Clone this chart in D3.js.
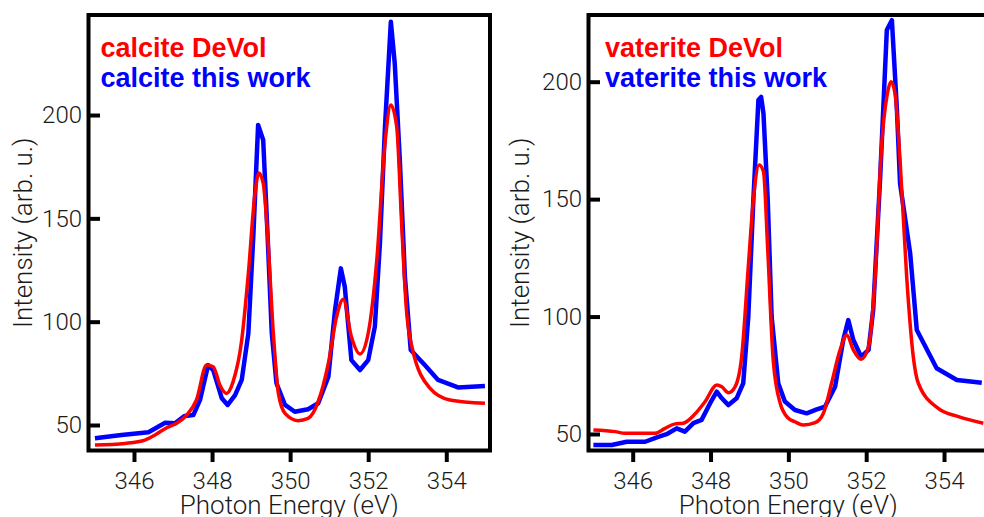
<!DOCTYPE html>
<html>
<head>
<meta charset="utf-8">
<script src="https://cdn.jsdelivr.net/npm/d3@7"></script>
<style>
  body { margin: 0; background: #fff; }
  svg { display: block; }
  .tick text { font-family: "Helvetica Neue", Roboto, "Liberation Sans", sans-serif; font-weight: 300; font-size: 24px; fill: #1a1a1a; }
  .title { font-family: "Helvetica Neue", Roboto, "Liberation Sans", sans-serif; font-weight: 300; font-size: 26px; fill: #1a1a1a; }
  .legend { font-family: "Liberation Sans", Arial, sans-serif; font-weight: bold; font-size: 27px; }
</style>
</head>
<body>
<div id="chart"></div>
<script>
// calcite panel
const calciteWorkE = [345.0, 345.68, 346.37, 346.8, 347.05, 347.3, 347.52, 347.69, 347.9, 348.03, 348.25, 348.4, 348.59, 348.76, 348.93, 349.06, 349.18, 349.31, 349.42, 349.53, 349.65, 349.87, 350.12, 350.46, 350.72, 350.98, 351.15, 351.3, 351.4, 351.57, 351.79, 352.0, 352.17, 352.3, 352.43, 352.58, 352.68, 352.81, 352.94, 353.09, 353.45, 353.79, 354.3, 354.99]
const calciteWorkI = [43.6, 45.2, 46.5, 51.1, 50.8, 54.4, 54.8, 62, 79, 76.6, 62.9, 59.7, 64.5, 71.8, 94.4, 142.7, 195.2, 187.9, 142.9, 94.5, 70.2, 59.7, 56.4, 57.6, 60.5, 73.4, 105.6, 125.8, 116.9, 81.4, 76.6, 81.4, 97.6, 137.9, 194.3, 245.1, 225, 178.2, 121.8, 86.3, 79, 71.8, 68.2, 68.9]
const calciteDeVolE = [345.0, 345.77, 346.28, 346.54, 346.84, 347.09, 347.35, 347.6, 347.86, 348.03, 348.2, 348.37, 348.54, 348.76, 348.93, 349.1, 349.2, 349.31, 349.42, 349.57, 349.7, 349.87, 350.2, 350.46, 350.72, 350.98, 351.19, 351.36, 351.57, 351.79, 352.0, 352.22, 352.43, 352.58, 352.73, 352.86, 352.98, 353.11, 353.58, 354.09, 354.99]
const calciteDeVolI = [40.3, 41.1, 42.7, 45.2, 48.7, 50.8, 54.8, 62.1, 79, 78.2, 69.4, 65.3, 71, 91.1, 123.4, 162.1, 172, 167, 142.7, 94.4, 65.3, 55.6, 52.1, 53.2, 61.3, 79.9, 102.4, 110.8, 92.7, 84.4, 94.4, 129.8, 186.3, 204.8, 194.3, 146, 105.6, 88.7, 67.8, 62.1, 60.5]

// vaterite panel
const vateriteWorkE = [344.99, 345.46, 345.85, 346.32, 346.62, 346.87, 347.13, 347.34, 347.56, 347.77, 347.99, 348.16, 348.29, 348.46, 348.67, 348.84, 348.97, 349.1, 349.23, 349.3, 349.36, 349.47, 349.57, 349.74, 349.91, 350.17, 350.47, 350.73, 350.94, 351.2, 351.41, 351.54, 351.67, 351.87, 352.06, 352.18, 352.36, 352.53, 352.66, 352.79, 352.87, 353.13, 353.3, 353.81, 354.33, 354.97]
const vateriteWorkI = [45.3, 45.3, 46.7, 46.7, 48.6, 49.9, 52.4, 51, 54.6, 56, 63.1, 68, 65.2, 62.3, 65.2, 71.6, 99.9, 149.6, 192.2, 193.5, 186.5, 149.6, 99.9, 71.6, 63.8, 60.2, 58.8, 60.5, 61.6, 70.1, 90, 98.5, 90, 82.9, 85.8, 102.8, 159.5, 222, 226.2, 188, 156.7, 126.9, 94.3, 78, 73, 71.8]
const vateriteDeVolE = [344.99, 345.55, 345.8, 346.57, 346.83, 347.09, 347.3, 347.6, 347.86, 348.16, 348.29, 348.46, 348.63, 348.8, 348.97, 349.1, 349.25, 349.36, 349.47, 349.61, 349.79, 350.0, 350.17, 350.38, 350.69, 350.9, 351.11, 351.33, 351.5, 351.67, 351.87, 352.06, 352.23, 352.4, 352.53, 352.64, 352.74, 352.87, 353.04, 353.21, 353.34, 353.85, 354.37, 355.01]
const vateriteDeVolI = [51.7, 51, 50.3, 50.3, 52.4, 54.3, 54.6, 58.5, 63.8, 70.9, 70.1, 67.6, 70.1, 82.9, 121.2, 149.6, 164.5, 161.7, 128.3, 81.5, 63.1, 56.7, 55.2, 53.8, 54.8, 58.8, 71.6, 85.8, 92.1, 85.8, 81.8, 87.2, 117, 173.8, 193.6, 200, 195, 166.6, 117, 82.9, 71.6, 60.9, 57.4, 54.6]

const xTickValues = [346, 348, 350, 352, 354]
const yTickValues = [50, 100, 150, 200]
const xTitle = 'Photon Energy (eV)'
const yTitle = 'Intensity (arb. u.)'

const width = 984
const height = 517
const red = '#ff0000'
const blue = '#0000ff'

const panels = [
  {
    frame: { left: 88.5, right: 490, top: 15, bottom: 450.5 },
    xDomain: [344.835, 355.12],
    yDomain: [37.66, 248.4],
    legendX: 12,
    titleOffset: 56.5,
    labels: ['calcite DeVol', 'calcite this work'],
    work: { e: calciteWorkE, i: calciteWorkI },
    devol: { e: calciteDeVolE, i: calciteDeVolI }
  },
  {
    frame: { left: 588.5, right: 988, top: 15, bottom: 450.5 },
    xDomain: [344.864, 355.13],
    yDomain: [42.97, 228.4],
    legendX: 16.5,
    titleOffset: 59.5,
    labels: ['vaterite DeVol', 'vaterite this work'],
    work: { e: vateriteWorkE, i: vateriteWorkI },
    devol: { e: vateriteDeVolE, i: vateriteDeVolI }
  }
]

const svg = d3.select('#chart')
  .append('svg')
  .attr('width', width)
  .attr('height', height)

svg.append('rect')
  .attr('width', width)
  .attr('height', height)
  .attr('fill', '#fff')

function zip (e, i) {
  return e.map((d, k) => ({ e: d, i: i[k] }))
}

function drawPanel (p) {
  const f = p.frame
  const xScale = d3.scaleLinear().domain(p.xDomain).range([f.left, f.right])
  const yScale = d3.scaleLinear().domain(p.yDomain).range([f.bottom, f.top])

  const g = svg.append('g')

  // x axis, ticks pointing out
  const xAxis = d3.axisBottom(xScale)
    .tickValues(xTickValues)
    .tickSizeInner(11.5)
    .tickSizeOuter(0)
    .tickPadding(10)

  const xg = g.append('g')
    .attr('transform', `translate(0,${f.bottom})`)
    .call(xAxis)
  xg.select('.domain').remove()
  xg.selectAll('.tick line').attr('stroke', '#000').attr('stroke-width', 4)

  // y axis, ticks pointing in
  const yAxis = d3.axisLeft(yScale)
    .tickValues(yTickValues)
    .tickSizeInner(-11.5)
    .tickSizeOuter(0)
    .tickPadding(6.5)

  const yg = g.append('g')
    .attr('transform', `translate(${f.left},0)`)
    .call(yAxis)
  yg.select('.domain').remove()
  yg.selectAll('.tick line').attr('stroke', '#000').attr('stroke-width', 4)

  g.selectAll('.tick text').attr('fill', null)
  g.selectAll('g').attr('font-family', null).attr('font-size', null)

  // lines
  const line = d3.line()
    .x((d) => xScale(d.e))
    .y((d) => yScale(d.i))

  g.append('path')
    .attr('d', line(zip(p.work.e, p.work.i)))
    .attr('fill', 'none')
    .attr('stroke', blue)
    .attr('stroke-width', 4.5)
    .attr('stroke-linejoin', 'round')

  g.append('path')
    .attr('d', line.curve(d3.curveMonotoneX)(zip(p.devol.e, p.devol.i)))
    .attr('fill', 'none')
    .attr('stroke', red)
    .attr('stroke-width', 3.5)
    .attr('stroke-linejoin', 'round')

  // frame
  g.append('rect')
    .attr('x', f.left)
    .attr('y', f.top)
    .attr('width', f.right - f.left)
    .attr('height', f.bottom - f.top)
    .attr('fill', 'none')
    .attr('stroke', '#000')
    .attr('stroke-width', 4)

  // legend
  g.selectAll('.legend')
    .data(p.labels)
    .enter()
    .append('text')
    .attr('class', 'legend')
    .attr('x', f.left + p.legendX)
    .attr('y', (d, i) => 56.5 + i * 30.5)
    .attr('fill', (d, i) => i === 0 ? red : blue)
    .text((d) => d)

  // titles
  g.append('text')
    .attr('class', 'title')
    .attr('text-anchor', 'middle')
    .attr('x', (f.left + f.right) / 2)
    .attr('y', 513.5)
    .text(xTitle)

  g.append('text')
    .attr('class', 'title')
    .attr('text-anchor', 'middle')
    .attr('transform', `translate(${f.left - p.titleOffset},${(f.top + f.bottom) / 2}) rotate(-90)`)
    .text(yTitle)
}

panels.forEach(drawPanel)
</script>
</body>
</html>
